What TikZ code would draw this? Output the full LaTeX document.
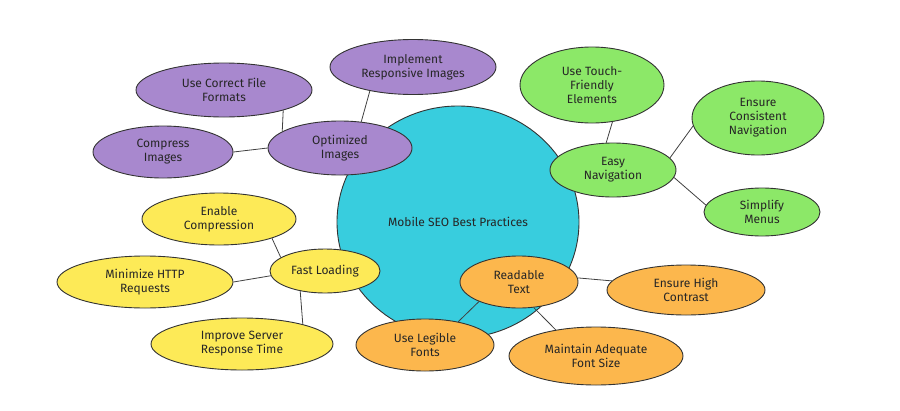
\documentclass[tikz,border=0pt]{standalone}
\usepackage{fontspec}
\setmainfont{Fira Sans}
\usepackage{tikz}
\usetikzlibrary{positioning}
\usetikzlibrary{shapes.geometric}

\definecolor{hubcyan}{RGB}{56,205,222}
\definecolor{imgpurple}{RGB}{168,136,206}
\definecolor{navgreen}{RGB}{140,232,104}
\definecolor{loadyellow}{RGB}{253,234,87}
\definecolor{textorange}{RGB}{252,183,77}

\tikzset{
    bubble/.style={ellipse, draw=black!80, line width=0.9pt, inner sep=0pt, align=center,
        font=\fontsize{12}{14}\selectfont, text=black!85},
    purplebub/.style={bubble, fill=imgpurple},
    greenbub/.style={bubble, fill=navgreen},
    yellowbub/.style={bubble, fill=loadyellow},
    orangebub/.style={bubble, fill=textorange},
    link/.style={draw=black!75, line width=0.8pt},
}

\begin{document}
\begin{tikzpicture}[x=1pt, y=-1pt]
    \useasboundingbox (0,0) rectangle (900,410);

    \node[bubble, fill=hubcyan, minimum width=242pt, minimum height=232pt] (hub) at (458,222) {Mobile SEO Best Practices};

    % optimized images
    \node[purplebub, minimum width=144pt, minimum height=54pt] (optimg) at (340,148) {Optimized\\Images};
    \node[purplebub, minimum width=176pt, minimum height=54pt] (formats) at (224,90) {Use Correct File\\Formats};
    \node[purplebub, minimum width=140pt, minimum height=52pt] (compress) at (163,152) {Compress\\Images};
    \node[purplebub, minimum width=166pt, minimum height=55pt] (respimg) at (413,67) {Implement\\Responsive Images};

    % easy navigation
    \node[greenbub, minimum width=126pt, minimum height=54pt] (easynav) at (613,170) {Easy\\Navigation};
    \node[greenbub, minimum width=144pt, minimum height=76pt] (touch) at (592,85) {Use Touch-\\Friendly\\Elements};
    \node[greenbub, minimum width=132pt, minimum height=74pt] (consistent) at (758,118) {Ensure\\Consistent\\Navigation};
    \node[greenbub, minimum width=116pt, minimum height=48pt] (menus) at (762,212) {Simplify\\Menus};

    % fast loading
    \node[yellowbub, minimum width=110pt, minimum height=44pt] (fastload) at (325,271) {Fast Loading};
    \node[yellowbub, minimum width=154pt, minimum height=52pt] (enable) at (219,219) {Enable\\Compression};
    \node[yellowbub, minimum width=176pt, minimum height=52pt] (http) at (145,282) {Minimize HTTP\\Requests};
    \node[yellowbub, minimum width=182pt, minimum height=52pt] (server) at (242,344) {Improve Server\\Response Time};

    % readable text
    \node[orangebub, minimum width=118pt, minimum height=52pt] (readable) at (519,282) {Readable\\Text};
    \node[orangebub, minimum width=158pt, minimum height=50pt] (contrast) at (686,290) {Ensure High\\Contrast};
    \node[orangebub, minimum width=138pt, minimum height=52pt] (legible) at (425,345) {Use Legible\\Fonts};
    \node[orangebub, minimum width=174pt, minimum height=58pt] (fontsize) at (596,356) {Maintain Adequate\\Font Size};

    \draw[link] (formats.341) -- (optimg.164);
    \draw[link] (compress.east) -- (optimg.west);
    \draw[link] (respimg.209) -- (optimg.51);

    \draw[link] (touch.299) -- (easynav.104);
    \draw[link] (consistent.187) -- (easynav.12);
    \draw[link] (menus.173) -- (easynav.353);

    \draw[link] (enable.340) -- (fastload.163);
    \draw[link] (http.east) -- (fastload.185);
    \draw[link] (server.18) -- (fastload.219);

    \draw[link] (contrast.173) -- (readable.4);
    \draw[link] (legible.35) -- (readable.206);
    \draw[link] (fontsize.147) -- (readable.300);

\end{tikzpicture}
\end{document}
